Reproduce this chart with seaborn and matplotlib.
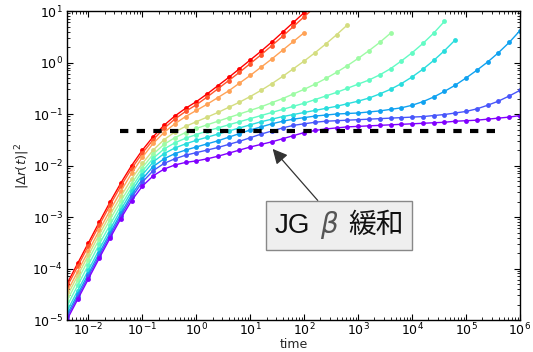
import numpy as np
import pandas as pd
import matplotlib
matplotlib.use("Agg")
import matplotlib.pyplot as plt
import seaborn as sns
from matplotlib.offsetbox import TextArea, HPacker, AnnotationBbox

# log10(time) grid of the samples
log_t = [-2.4, -2.2, -2.0, -1.8, -1.6, -1.4, -1.2, -1.0, -0.8, -0.6, -0.4, -0.2,
         0.0, 0.2, 0.4, 0.6, 0.8, 1.0, 1.2, 1.4, 1.6, 1.8, 2.0, 2.2, 2.4, 2.6,
         2.8, 3.0, 3.2, 3.4, 3.6, 3.8, 4.0, 4.2, 4.4, 4.6, 4.8, 5.0, 5.2, 5.4,
         5.6, 5.8, 6.0]

# log10 MSD for each temperature, hottest (red) to coldest (purple)
msd_red = [-4.30, -3.90, -3.50, -3.10, -2.71, -2.34, -2.00, -1.70, -1.44, -1.22, -1.04, -0.89,
           -0.76, -0.61, -0.45, -0.29, -0.12, 0.05, 0.22, 0.40, 0.59, 0.78, 0.97, 1.16]
msd_red2 = [-4.36, -3.96, -3.56, -3.16, -2.77, -2.40, -2.06, -1.76, -1.50, -1.28, -1.10, -0.95,
            -0.82, -0.67, -0.51, -0.35, -0.19, -0.02, 0.15, 0.33, 0.51, 0.70, 0.89, 1.08]
msd_orange = [-4.46, -4.06, -3.66, -3.26, -2.87, -2.50, -2.15, -1.84, -1.57, -1.36, -1.19, -1.05,
              -0.93, -0.81, -0.68, -0.55, -0.40, -0.25, -0.09, 0.07, 0.24, 0.41, 0.58]
msd_yellow = [-4.54, -4.14, -3.74, -3.34, -2.96, -2.60, -2.26, -1.96, -1.70, -1.50, -1.35, -1.24,
              -1.15, -1.06, -0.97, -0.87, -0.77, -0.66, -0.54, -0.41, -0.27, -0.12, 0.03, 0.19,
              0.36, 0.54, 0.73]
msd_green = [-4.63, -4.23, -3.83, -3.43, -3.05, -2.69, -2.35, -2.04, -1.78, -1.59, -1.46, -1.36,
             -1.28, -1.21, -1.14, -1.07, -1.00, -0.93, -0.86, -0.78, -0.70, -0.61, -0.52, -0.42,
             -0.31, -0.19, -0.06, 0.08, 0.23, 0.39, 0.57]
msd_aqua = [-4.73, -4.33, -3.93, -3.53, -3.15, -2.78, -2.43, -2.11, -1.86, -1.68, -1.56, -1.47,
            -1.40, -1.33, -1.27, -1.21, -1.15, -1.09, -1.03, -0.97, -0.91, -0.85, -0.79, -0.72,
            -0.65, -0.58, -0.50, -0.42, -0.34, -0.24, -0.12, 0.03, 0.19, 0.37, 0.57, 0.80]
msd_cyan = [-4.83, -4.43, -4.03, -3.63, -3.24, -2.86, -2.50, -2.18, -1.93, -1.77, -1.66, -1.58,
            -1.51, -1.45, -1.39, -1.33, -1.27, -1.21, -1.15, -1.10, -1.05, -1.01, -0.97, -0.93,
            -0.89, -0.85, -0.80, -0.75, -0.69, -0.61, -0.52, -0.41, -0.28, -0.13, 0.04, 0.23, 0.44]
msd_blue = [-4.90, -4.50, -4.10, -3.70, -3.31, -2.93, -2.57, -2.26, -2.02, -1.87, -1.77, -1.70,
            -1.64, -1.58, -1.52, -1.45, -1.38, -1.31, -1.25, -1.19, -1.14, -1.10, -1.07, -1.04,
            -1.02, -1.00, -0.99, -0.98, -0.96, -0.94, -0.91, -0.88, -0.83, -0.76, -0.67, -0.56,
            -0.44, -0.30, -0.15, 0.01, 0.19, 0.39, 0.62]
msd_violet = [-4.95, -4.55, -4.15, -3.75, -3.36, -2.98, -2.62, -2.32, -2.10, -1.96, -1.87, -1.80,
              -1.75, -1.70, -1.65, -1.59, -1.53, -1.46, -1.39, -1.33, -1.27, -1.22, -1.19, -1.16,
              -1.14, -1.13, -1.12, -1.11, -1.10, -1.09, -1.08, -1.07, -1.06, -1.05, -1.03, -1.01,
              -0.98, -0.95, -0.90, -0.83, -0.75, -0.65, -0.54]
msd_purple = [-5.00, -4.60, -4.20, -3.80, -3.41, -3.03, -2.68, -2.40, -2.20, -2.07, -1.99, -1.94,
              -1.91, -1.87, -1.82, -1.76, -1.70, -1.64, -1.59, -1.54, -1.48, -1.42, -1.36, -1.32,
              -1.29, -1.27, -1.25, -1.24, -1.23, -1.22, -1.21, -1.20, -1.19, -1.18, -1.17, -1.16,
              -1.14, -1.13, -1.12, -1.10, -1.08, -1.06, -1.03]

curves = [msd_red, msd_red2, msd_orange, msd_yellow, msd_green,
          msd_aqua, msd_cyan, msd_blue, msd_violet, msd_purple]

# plateau marker and annotation
plateau_msd = 0.046
plateau_t = [0.039, 3.5e5]
label_parts = ["JG", r"$\beta$", "緩和"]
arrow_tip = (26, 0.021)
label_pos = (450, 6.9e-4)

rows = []
for i, c in enumerate(curves):
    for lt, lm in zip(log_t, c):
        rows.append({"curve": i, "time": 10 ** lt, "msd": 10 ** lm})
df = pd.DataFrame(rows)

sns.set_style("ticks")
plt.rcParams.update({
    "xtick.direction": "in", "ytick.direction": "in",
    "xtick.top": True, "ytick.right": True,
    "xtick.major.size": 4, "ytick.major.size": 4,
    "xtick.minor.size": 2, "ytick.minor.size": 2,
    "xtick.minor.visible": True, "ytick.minor.visible": True,
    "xtick.major.pad": 1.5, "ytick.major.pad": 3,
    "axes.linewidth": 1.0, "axes.edgecolor": "black",
})
plt.rcParams["font.family"] = ["DejaVu Sans", "Noto Sans CJK JP"]

palette = list(plt.get_cmap("rainbow")(np.linspace(1, 0, len(curves))))

fig = plt.figure(figsize=(5.33, 3.52), dpi=100)
ax = fig.add_axes([0.1257, 0.0909, 0.8499, 0.8778])

sns.lineplot(data=df, x="time", y="msd", hue="curve", palette=palette,
             estimator=None, sort=False, marker="o", markersize=3.5,
             markeredgewidth=0, linewidth=1.0, legend=False, ax=ax)

ax.plot(plateau_t, [plateau_msd, plateau_msd], color="black", lw=3,
        dashes=(2, 2), zorder=5)

ax.set_xscale("log")
ax.set_yscale("log")
ax.set_xlim(0.004, 1e6)
ax.set_ylim(1e-5, 10)
ax.set_xticks([1e-2, 1e-1, 1, 10, 100, 1e3, 1e4, 1e5, 1e6])
ax.set_yticks([1e-5, 1e-4, 1e-3, 1e-2, 1e-1, 1, 10])
ax.tick_params(labelsize=9, colors="black", which="both")
ax.set_xlabel("time", fontsize=9, va="bottom")
ax.xaxis.set_label_coords(0.5, -0.1)
ax.set_ylabel(r"$|\Delta r(t)|^2$", fontsize=9.5, labelpad=0)

# annotation box: latin, math beta and japanese parts in their own fonts
parts = [
    TextArea(label_parts[0], textprops=dict(fontsize=20, family="Liberation Sans", color="#111111")),
    TextArea(label_parts[1], textprops=dict(fontsize=20, color="#555555")),
    TextArea(label_parts[2], textprops=dict(fontsize=20, family="Noto Sans CJK JP", color="#111111")),
]
packed = HPacker(children=parts, align="baseline", pad=0, sep=7)
ab = AnnotationBbox(packed, arrow_tip, xybox=label_pos, xycoords="data", boxcoords="data",
                    frameon=True, pad=0.45, fontsize=20,
                    bboxprops=dict(boxstyle="square", fc="#efefef", ec="#888888", lw=1),
                    arrowprops=dict(arrowstyle="-|>", color="#333333", lw=0.9,
                                    mutation_scale=16, shrinkA=0, shrinkB=0))
ab.set_zorder(6)
ax.add_artist(ab)

fig.savefig("out.png", dpi=100)
